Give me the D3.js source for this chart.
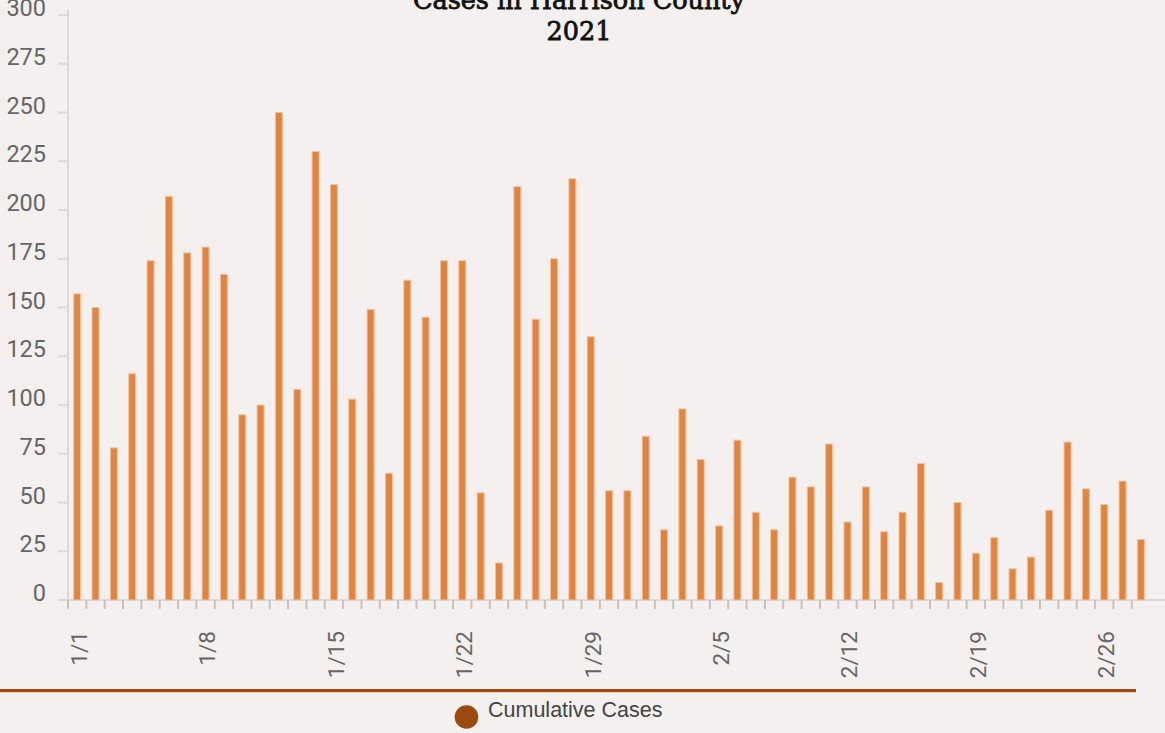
<!DOCTYPE html>
<html>
<head>
<meta charset="utf-8">
<script src="https://cdn.jsdelivr.net/npm/d3@7/dist/d3.min.js"></script>
<style>
  html, body { margin: 0; padding: 0; background: #f4f0ef; }
  svg { display: block; }
</style>
</head>
<body>
<svg id="chart" width="1165" height="733"></svg>
<script>
const dates = ["1/1","1/2","1/3","1/4","1/5","1/6","1/7","1/8","1/9","1/10","1/11","1/12","1/13","1/14","1/15","1/16","1/17","1/18","1/19","1/20","1/21","1/22","1/23","1/24","1/25","1/26","1/27","1/28","1/29","1/30","1/31","2/1","2/2","2/3","2/4","2/5","2/6","2/7","2/8","2/9","2/10","2/11","2/12","2/13","2/14","2/15","2/16","2/17","2/18","2/19","2/20","2/21","2/22","2/23","2/24","2/25","2/26","2/27","2/28"];
const cases = [157,150,78,116,174,207,178,181,167,95,100,250,108,230,213,103,149,65,164,145,174,174,55,19,212,144,175,216,135,56,56,84,36,98,72,38,82,45,36,63,58,80,40,58,35,45,70,9,50,24,32,16,22,46,81,57,49,61,31];
const xTickLabels = ["1/1","1/8","1/15","1/22","1/29","2/5","2/12","2/19","2/26"];
const yTicks = [0,25,50,75,100,125,150,175,200,225,250,275,300];
const titleLines = ["Cases in Harrison County","2021"];
const legendLabel = "Cumulative Cases";

(function () {
const svg = d3.select("#chart");
const mLeft = 68, mRight = 68 + 59 * 18.34, mBottom = 600, mTop = 15;

const x = d3.scaleBand().domain(dates).range([mLeft, mRight]).paddingInner(0).paddingOuter(0);
const y = d3.scaleLinear().domain([0, 300]).range([mBottom, mTop]);

// y axis line
svg.append("line").attr("x1", mLeft).attr("x2", mLeft).attr("y1", 10).attr("y2", mBottom)
  .attr("stroke", "#dcd9d8").attr("stroke-width", 2);
// x axis line
svg.append("line").attr("x1", mLeft - 10).attr("x2", 1165).attr("y1", mBottom).attr("y2", mBottom)
  .attr("stroke", "#dcd9d8").attr("stroke-width", 2);

// y ticks and labels
const yg = svg.append("g");
yg.selectAll("line").data(yTicks).join("line")
  .attr("x1", mLeft - 10).attr("x2", mLeft).attr("y1", d => y(d)).attr("y2", d => y(d))
  .attr("stroke", "#dcd9d8").attr("stroke-width", 2);
yg.selectAll("text").data(yTicks).join("text")
  .attr("x", 46).attr("y", d => y(d) + 1).attr("text-anchor", "end")
  .attr("font-family", "Roboto, sans-serif").attr("font-size", 23.5).attr("fill", "#666")
  .text(d => d);

// x ticks at band starts
svg.append("g").selectAll("line").data(dates).join("line")
  .attr("x1", d => x(d)).attr("x2", d => x(d)).attr("y1", mBottom).attr("y2", mBottom + 9)
  .attr("stroke", "#c4c1c0").attr("stroke-width", 2);

// bars
const bw = 7;
svg.append("g").selectAll("rect").data(cases).join("rect")
  .attr("x", (d, i) => x(dates[i]) + x.bandwidth() / 2 - bw / 2)
  .attr("y", d => y(d))
  .attr("width", bw)
  .attr("height", d => y(0) - y(d))
  .attr("fill", "#e1843f")
  .attr("stroke", "#f2c3a0").attr("stroke-width", 1);

// x labels
svg.append("g").selectAll("text").data(xTickLabels).join("text")
  .attr("transform", d => `translate(${x(d) + x.bandwidth() / 2 + 2},${631}) rotate(-90)`)
  .attr("text-anchor", "end").attr("dy", "0.35em")
  .attr("font-family", "Roboto, sans-serif").attr("font-size", 22.5).attr("fill", "#666")
  .text(d => d);

// title
svg.append("g").selectAll("text").data(titleLines).join("text")
  .attr("x", 579).attr("y", (d, i) => 9 + i * 31).attr("text-anchor", "middle")
  .attr("font-family", "'DejaVu Serif', serif").attr("font-size", 25.5).attr("fill", "#111")
  .attr("stroke", "#111").attr("stroke-width", 0.8)
  .text(d => d);

// legend separator line
svg.append("line").attr("x1", 0).attr("x2", 1136).attr("y1", 690.5).attr("y2", 690.5)
  .attr("stroke", "#9a4a10").attr("stroke-width", 3);
svg.append("line").attr("x1", 0).attr("x2", 1136).attr("y1", 692.5).attr("y2", 692.5)
  .attr("stroke", "#e8cbb8").attr("stroke-width", 1);

// legend
svg.append("circle").attr("cx", 466.5).attr("cy", 717).attr("r", 11.8).attr("fill", "#9a4a0e");
svg.append("text").attr("x", 488).attr("y", 717)
  .attr("font-family", "'Liberation Sans', Arial, sans-serif").attr("font-size", 21.5).attr("fill", "#444")
  .text(legendLabel);
})();
</script>
</body>
</html>
